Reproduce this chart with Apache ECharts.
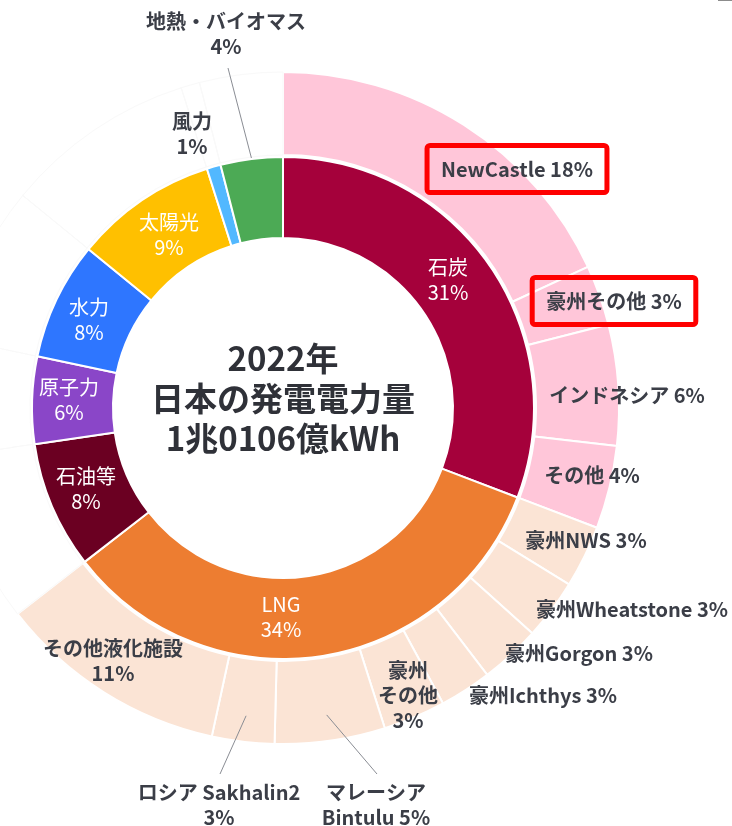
<!DOCTYPE html>
<html lang="ja">
<head>
    <meta charset="utf-8">
    <title>2022年 日本の発電電力量</title>
    <style>
        html,body,#main{
            height: 100%;
            width: 100%;
            padding: 0;
            margin: 0;
            background: #fff;
        }
    </style>
</head>
<body>
    <div id="main"></div>
    <script src="https://cdn.jsdelivr.net/npm/echarts@6/dist/echarts.min.js"></script>
    <script>
        // 内側：電源構成（%）
        const innerNames = ['石炭', 'LNG', '石油等', '原子力', '水力', '太陽光', '風力', '地熱・バイオマス']
        const innerValues = [30.8, 33.7, 8.2, 5.6, 7.6, 9.2, 0.9, 4.0]
        // 外側：石炭の調達先
        const coalNames = ['NewCastle', '豪州その他', 'インドネシア', 'その他']
        const coalValues = [18.1, 2.9, 5.8, 4.0]
        // 外側：LNGの調達先
        const lngNames = ['豪州NWS', '豪州Wheatstone', '豪州Gorgon', '豪州Ichthys', '豪州\nその他', 'マレーシア\nBintulu', 'ロシア Sakhalin2', 'その他液化施設']
        const lngValues = [3.0, 2.9, 2.9, 2.5, 3.0, 5.3, 3.0, 11.1]
        const centerText = ['2022年', '日本の発電電力量', '1兆0106億kWh']

        // 見た目の設定
        const CX = 283, CY = 408
        const R_IN = [170, 251], R_OUT = [253, 336]
        const FONT = '"Noto Sans CJK JP", "Noto Sans", sans-serif'
        const innerColors = ['#A5013B', '#ED7D31', '#6B0022', '#8A46C8', '#2E76FF', '#FFC000', '#52B8FF', '#4CAA55']
        const coalColor = '#FFC6D9'
        const lngColor = '#FBE4D5'
        const lineColor = '#8a8d94'
        const lngSep = [' ', ' ', ' ', ' ', '\n', ' ', '\n', '\n']
        const outsideIdx = [9, 10]      // 外側リングで引き出し線を使うもの
        const boxedIdx = [0, 1]         // 赤枠
        // ラベル中心位置
        const innerLabelPos = [[448, 280], [281, 617], [86, 489], [69, 400], [89, 320], [169, 235], [192, 134], [226, 34]]
        const outerLabelPos = [[517, 169], [614, 301], [627, 395], [592, 475],
            [586, 540], [632, 609], [579, 653], [543, 695], [408, 695], [376, 805], [219, 805], [113, 661]]

        const pct = v => Math.round(v) + '%'

        // 各扇形の中央角（上から時計回り, %）
        function midPercents(values) {
            let acc = 0
            return values.map(v => { const m = acc + v / 2; acc += v; return m })
        }
        function polar(p, r) {
            const a = p / 100 * Math.PI * 2
            return [CX + r * Math.sin(a), CY - r * Math.cos(a)]
        }
        const innerMid = midPercents(innerValues)
        const outerVals = coalValues.concat(lngValues, innerValues.slice(2))
        const outerMid = midPercents(outerVals)

        const innerData = innerNames.map((n, i) => {
            const outside = i >= 6
            return {
                name: n,
                value: innerValues[i],
                itemStyle: { color: innerColors[i] },
                label: {
                    formatter: n + '\n' + pct(innerValues[i]),
                    position: outside ? 'outside' : 'inside',
                    color: outside ? '#3b3e47' : '#fff',
                    fontWeight: outside ? 'bold' : 'normal'
                }
            }
        })

        const outerData = []
        coalNames.forEach((n, i) => {
            const boxed = boxedIdx.indexOf(i) >= 0
            outerData.push({
                name: n,
                value: coalValues[i],
                itemStyle: { color: coalColor },
                label: Object.assign({ formatter: n + ' ' + pct(coalValues[i]) }, boxed ? {
                    borderColor: '#ff0000', borderWidth: 5, borderRadius: 3, padding: [11, 14]
                } : {})
            })
        })
        lngNames.forEach((n, i) => {
            const k = coalNames.length + i
            const outside = outsideIdx.indexOf(k) >= 0
            outerData.push({
                name: n,
                value: lngValues[i],
                itemStyle: { color: lngColor },
                label: {
                    formatter: n + lngSep[i] + pct(lngValues[i]),
                    position: outside ? 'outside' : 'inside'
                }
            })
        })
        // 石炭・LNG以外は外側リングを空白にする
        innerNames.slice(2).forEach((n, i) => {
            outerData.push({
                name: n + '_blank',
                value: innerValues[i + 2],
                itemStyle: { color: 'rgba(255,255,255,0)', borderColor: '#f9f9f9', borderWidth: 1 },
                label: { show: false }
            })
        })

        // 引き出し線（扇形の中央角から計算）
        const leaderLines = [
            [polar(innerMid[7], R_IN[1] + 1), [innerLabelPos[7][0] + 2, innerLabelPos[7][1] + 34]]
        ].concat(outsideIdx.map(k => [polar(outerMid[k], 310), [outerLabelPos[k][0] + 1, outerLabelPos[k][1] - 31]]))

        const chart = echarts.init(document.getElementById('main'))
        chart.setOption({
            backgroundColor: '#fff',
            animation: false,
            series: [{
                type: 'pie',
                center: [CX, CY],
                radius: R_IN,
                startAngle: 90,
                clockwise: true,
                avoidLabelOverlap: false,
                silent: true,
                itemStyle: { borderColor: '#fff', borderWidth: 2 },
                label: {
                    fontFamily: FONT, fontSize: 20, lineHeight: 25
                },
                labelLine: { show: false },
                labelLayout: p => {
                    const pos = innerLabelPos[p.dataIndex]
                    return { x: pos[0], y: pos[1], align: 'center', verticalAlign: 'middle' }
                },
                data: innerData
            }, {
                type: 'pie',
                center: [CX, CY],
                radius: R_OUT,
                startAngle: 90,
                clockwise: true,
                avoidLabelOverlap: false,
                silent: true,
                itemStyle: { borderColor: '#fff', borderWidth: 2 },
                label: {
                    fontFamily: FONT, fontSize: 20, lineHeight: 25,
                    fontWeight: 'bold', color: '#3b3e47'
                },
                labelLine: { show: false },
                labelLayout: p => {
                    const pos = outerLabelPos[p.dataIndex]
                    if (!pos) return {}
                    return { x: pos[0], y: pos[1], align: 'center', verticalAlign: 'middle' }
                },
                data: outerData
            }],
            graphic: [{
                type: 'text',
                x: CX,
                y: 398,
                style: {
                    text: centerText.join('\n'),
                    align: 'center',
                    verticalAlign: 'middle',
                    fontFamily: FONT,
                    fontSize: 33,
                    fontWeight: 'bold',
                    lineHeight: 40,
                    fill: '#2f3138'
                }
            }, {
                type: 'rect',
                shape: { x: 718, y: 0, width: 14, height: 1 },
                style: { fill: '#8c8c8c' }
            }].concat(leaderLines.map(pts => ({
                type: 'polyline',
                z: 100,
                shape: { points: pts },
                style: { stroke: lineColor, lineWidth: 1, fill: null }
            })))
        })
    </script>
</body>
</html>
